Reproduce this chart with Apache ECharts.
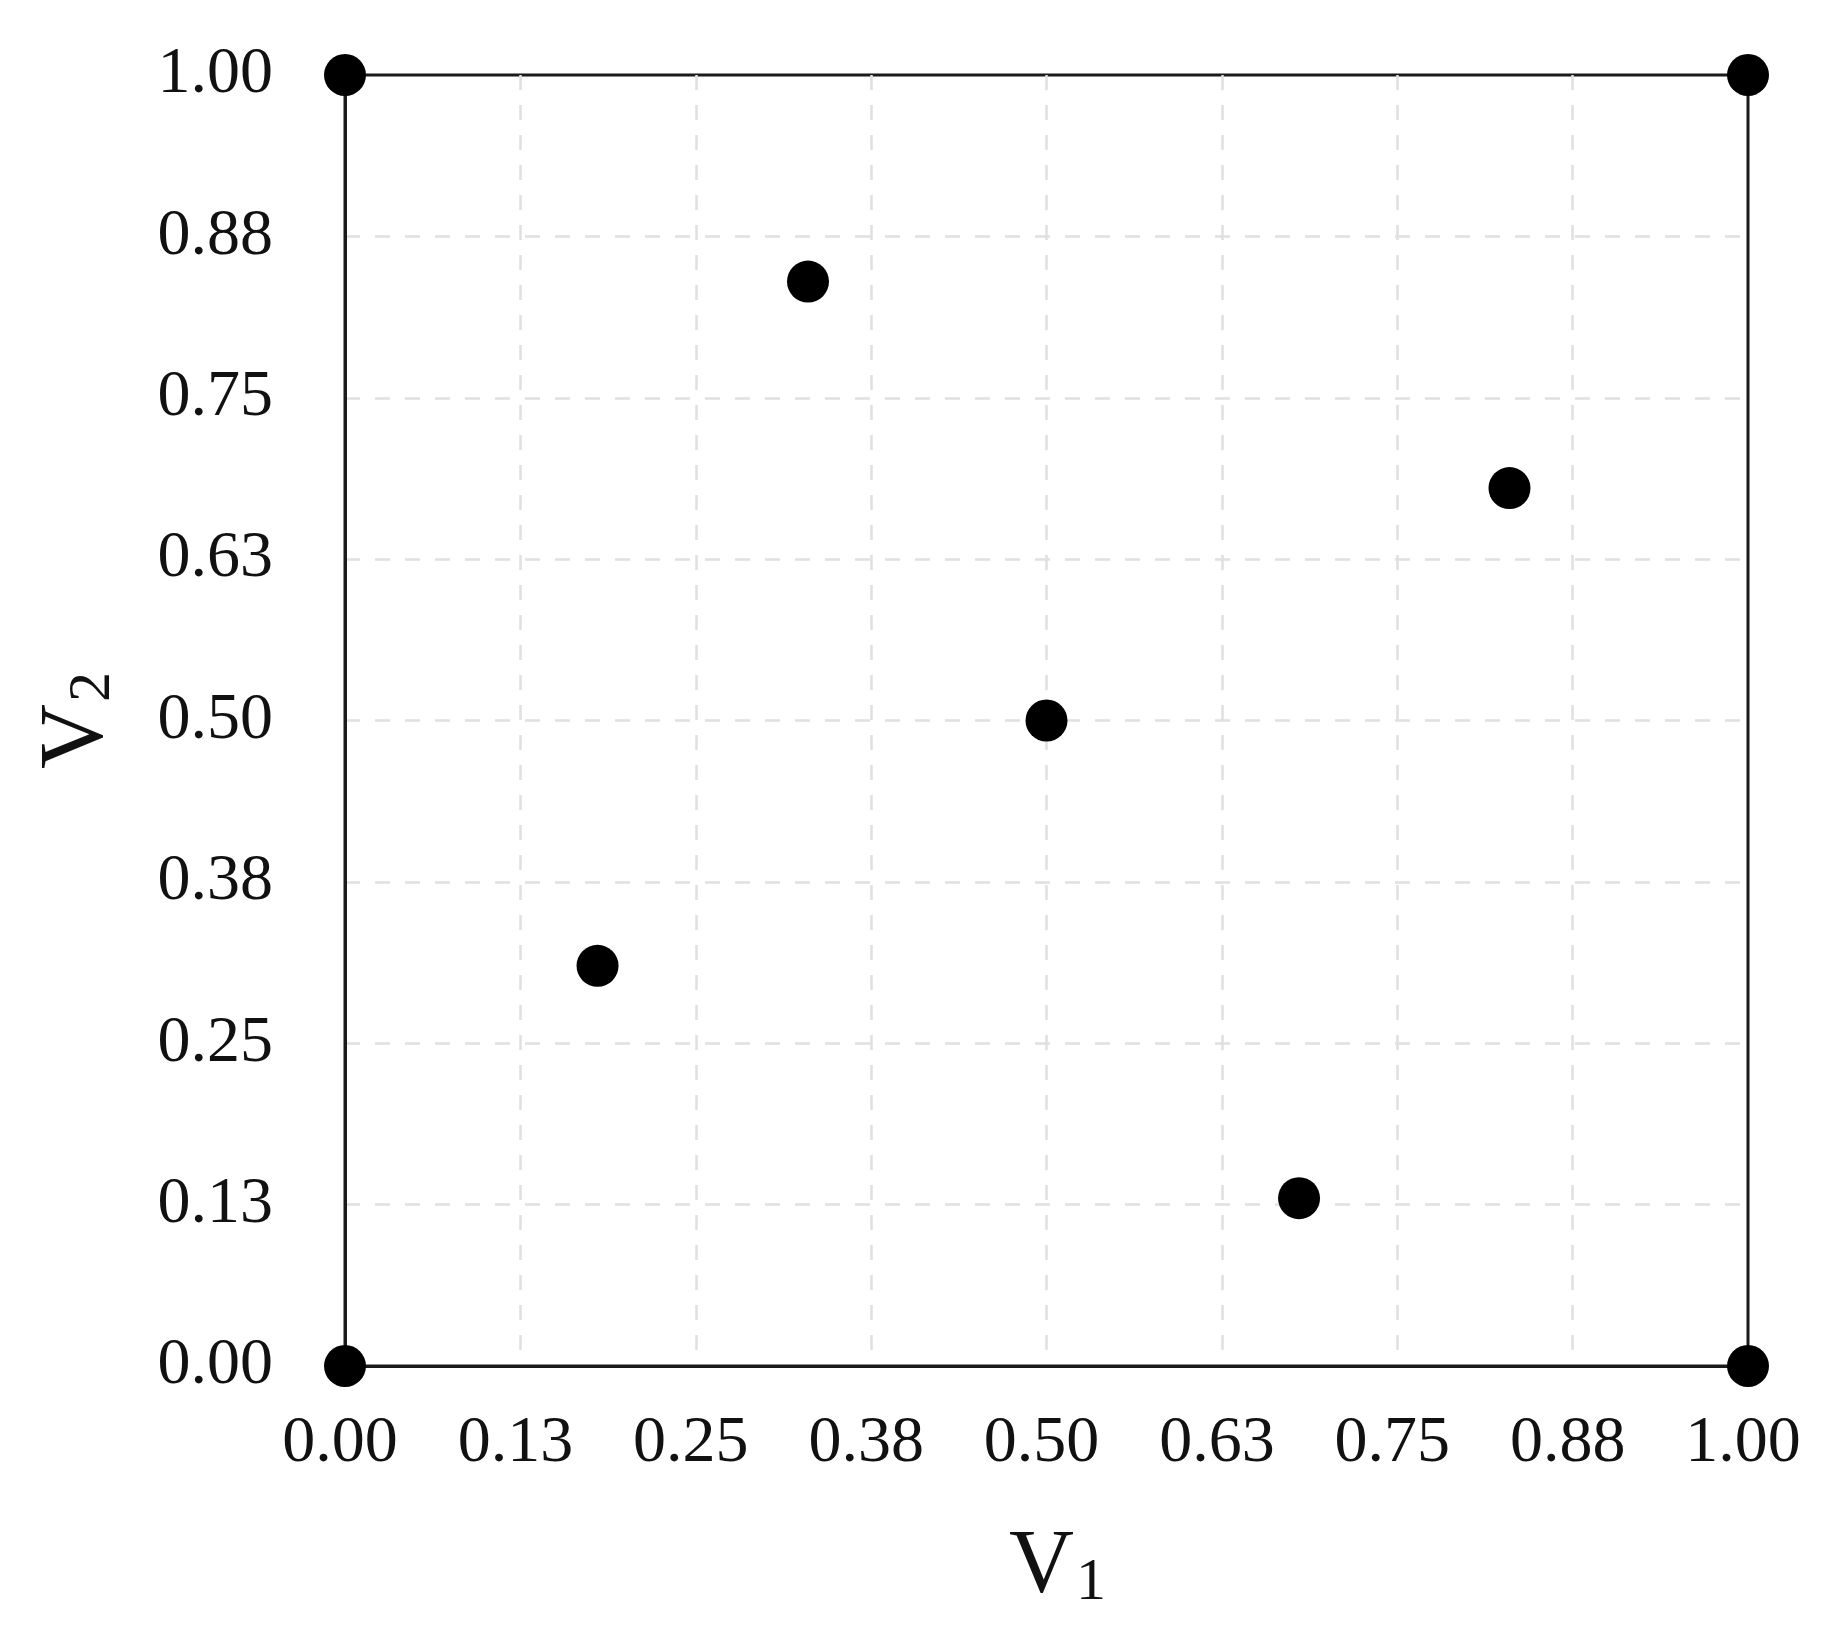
<!DOCTYPE html>
<html>
<head>
<meta charset="utf-8">
<script src="https://cdn.jsdelivr.net/npm/echarts@6/dist/echarts.min.js"></script>
<style>
  html, body { margin: 0; padding: 0; background: #fff; }
  #chart { width: 1840px; height: 1638px; }
</style>
</head>
<body>
<div id="chart"></div>
<script>
  // design points (corners + interior)
  const v1 = [0, 1, 0, 1, 0.18, 0.33, 0.5, 0.68, 0.83]
  const v2 = [0, 0, 1, 1, 0.31, 0.84, 0.5, 0.13, 0.68]
  const tickStep = 0.125
  const tickLabels = ['0.00', '0.13', '0.25', '0.38', '0.50', '0.63', '0.75', '0.88', '1.00']

  const serif = "'Liberation Serif', 'Times New Roman', serif"
  const labelFmt = v => tickLabels[Math.round(v / tickStep)]
  const nameRich = {
    v: { fontSize: 90, lineHeight: 90, verticalAlign: 'top', fontFamily: serif, color: '#111' },
    s: { fontSize: 60, lineHeight: 60, padding: [44, 0, 0, 2], verticalAlign: 'bottom', fontFamily: serif, color: '#111' }
  }
  const gridLine = {
    show: true,
    showMinLine: false,
    showMaxLine: false,
    lineStyle: { color: '#e0e0e0', width: 2.5, type: [15, 15] }
  }

  const mChart = echarts.init(document.getElementById('chart'))
  const option = {
    animation: false,
    backgroundColor: '#fff',
    grid: {
      left: 345, right: 92, top: 75, bottom: 272,
      show: true,
      borderColor: '#1a1a1a',
      borderWidth: 3
    },
    // x 轴
    xAxis: {
      type: 'value',
      min: 0, max: 1, interval: tickStep,
      name: '{v|V}{s|1}',
      nameLocation: 'middle',
      nameGap: 157,
      nameTextStyle: { rich: nameRich, padding: [0, 0, 0, 22] },
      axisLine: { show: true, lineStyle: { color: '#1a1a1a', width: 3 } },
      axisTick: { show: false },
      axisLabel: { formatter: labelFmt, fontSize: 66, fontFamily: serif, color: '#111', margin: 45, padding: [0, 10, 0, 0] },
      splitLine: gridLine
    },
    // y 轴
    yAxis: {
      type: 'value',
      min: 0, max: 1, interval: tickStep,
      name: '{v|V}{s|2}',
      nameLocation: 'middle',
      nameGap: 222,
      nameTextStyle: { rich: nameRich },
      axisLine: { show: true, lineStyle: { color: '#1a1a1a', width: 3 } },
      axisTick: { show: false },
      axisLabel: { formatter: labelFmt, fontSize: 66, fontFamily: serif, color: '#111', margin: 72 },
      splitLine: gridLine
    },
    series: [{
      type: 'scatter',
      clip: false,
      symbol: 'circle',
      symbolSize: 42,
      itemStyle: { color: '#000', opacity: 1 },
      data: v1.map((x, i) => [x, v2[i]])
    }]
  }
  mChart.setOption(option)
  window.addEventListener('resize', function() {
    mChart.resize()
  })
</script>
</body>
</html>
